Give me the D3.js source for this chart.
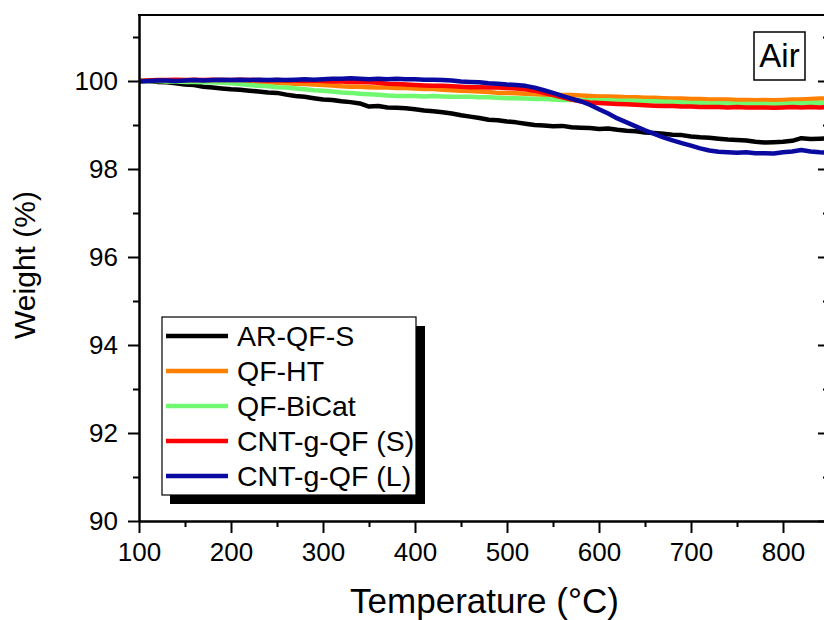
<!DOCTYPE html>
<html lang="en">
<head>
<meta charset="utf-8">
<title>TGA in air</title>
<script src="https://d3js.org/d3.v7.min.js"></script>
<style>
  body { margin: 0; background: #fff; }
  text { font-family: "Liberation Sans", Arial, sans-serif; fill: #000; }
</style>
</head>
<body>
<script>
// temperatures, every 10 °C
var temps = d3.range(100, 851, 10);

var arQFS = [100.00,100.00,99.98,99.97,99.95,99.92,99.91,99.87,99.85,99.83,
  99.81,99.80,99.78,99.76,99.74,99.73,99.69,99.66,99.64,99.61,
  99.58,99.57,99.54,99.52,99.49,99.42,99.43,99.40,99.39,99.38,
  99.36,99.33,99.31,99.29,99.26,99.22,99.19,99.16,99.12,99.11,
  99.08,99.06,99.03,99.00,98.99,98.97,98.98,98.95,98.94,98.93,
  98.91,98.92,98.89,98.87,98.86,98.83,98.82,98.80,98.78,98.77,
  98.74,98.72,98.71,98.69,98.67,98.66,98.65,98.62,98.60,98.61,
  98.62,98.64,98.70,98.68,98.69,98.70];

var qfHT = [100.00,100.01,100.01,100.00,100.01,100.00,100.01,100.00,99.99,100.00,
  99.99,99.98,99.98,99.97,99.97,99.96,99.95,99.94,99.93,99.92,
  99.91,99.90,99.88,99.87,99.87,99.86,99.85,99.85,99.84,99.84,
  99.83,99.82,99.82,99.80,99.79,99.78,99.77,99.76,99.75,99.73,
  99.73,99.72,99.71,99.70,99.69,99.69,99.68,99.68,99.67,99.66,
  99.65,99.65,99.64,99.63,99.63,99.62,99.62,99.61,99.60,99.60,
  99.59,99.59,99.58,99.58,99.58,99.57,99.57,99.56,99.57,99.56,
  99.57,99.58,99.58,99.59,99.60,99.60];

var qfBiCat = [100.00,100.00,100.00,99.99,99.99,99.98,99.98,99.97,99.97,99.96,
  99.95,99.93,99.91,99.89,99.88,99.86,99.85,99.83,99.81,99.79,
  99.78,99.76,99.74,99.73,99.71,99.70,99.69,99.67,99.66,99.66,
  99.66,99.65,99.66,99.65,99.64,99.64,99.64,99.63,99.63,99.62,
  99.61,99.61,99.60,99.59,99.59,99.58,99.57,99.57,99.57,99.56,
  99.56,99.56,99.55,99.55,99.55,99.54,99.54,99.53,99.52,99.51,
  99.50,99.50,99.49,99.49,99.49,99.48,99.48,99.48,99.48,99.47,
  99.48,99.49,99.49,99.50,99.50,99.51];

var cntS = [100.00,100.01,100.02,100.02,100.03,100.02,100.03,100.02,100.03,100.02,
  100.02,100.03,100.02,100.02,100.01,100.02,100.01,100.01,100.00,100.01,
  100.00,99.99,99.99,99.98,99.98,99.97,99.96,99.94,99.93,99.92,
  99.91,99.90,99.89,99.89,99.88,99.87,99.86,99.86,99.85,99.85,
  99.84,99.83,99.81,99.78,99.73,99.68,99.63,99.58,99.54,99.51,
  99.50,99.49,99.48,99.47,99.46,99.45,99.44,99.43,99.43,99.42,
  99.42,99.41,99.41,99.41,99.40,99.41,99.40,99.40,99.40,99.39,
  99.40,99.41,99.40,99.41,99.40,99.41];

var cntL = [99.99,100.00,100.01,100.01,100.00,100.01,100.02,100.01,100.02,100.03,
  100.02,100.03,100.02,100.03,100.02,100.03,100.02,100.03,100.04,100.03,
  100.04,100.05,100.05,100.06,100.05,100.04,100.05,100.04,100.05,100.04,
  100.04,100.03,100.03,100.02,100.01,99.99,99.98,99.97,99.95,99.94,
  99.92,99.91,99.89,99.85,99.79,99.73,99.66,99.60,99.54,99.46,
  99.36,99.26,99.15,99.06,98.97,98.88,98.80,98.72,98.65,98.59,
  98.53,98.47,98.42,98.39,98.38,98.37,98.38,98.36,98.36,98.35,
  98.38,98.40,98.43,98.40,98.38,98.37];

var seriesNames = ["AR-QF-S", "QF-HT", "QF-BiCat", "CNT-g-QF (S)", "CNT-g-QF (L)"];
var seriesColors = ["#000000", "#ff8000", "#70f870", "#ff0000", "#0a0aa0"];
var seriesValues = [arQFS, qfHT, qfBiCat, cntS, cntL];

var xTicks = [100, 200, 300, 400, 500, 600, 700, 800];
var xMinor = [150, 250, 350, 450, 550, 650, 750, 850];
var yTicks = [90, 92, 94, 96, 98, 100];
var yMinor = [91, 93, 95, 97, 99, 101];

(function() {
var W = 824, H = 620;
var pL = 139, pR = 829, pT = 15, pB = 521;

var x = d3.scaleLinear().domain([100, 850]).range([pL, pR]);
var y = d3.scaleLinear().domain([90, 101.5]).range([pB, pT]);

var svg = d3.select("body").append("svg")
  .attr("width", W).attr("height", H);

svg.append("clipPath").attr("id", "plot")
  .append("rect").attr("x", pL).attr("y", pT)
  .attr("width", pR - pL).attr("height", pB - pT);

// data lines
var line = d3.line()
  .x(function(d, i) { return x(temps[i]); })
  .y(function(d) { return y(d); });

var lines = svg.append("g").attr("clip-path", "url(#plot)");
seriesValues.forEach(function(vals, k) {
  lines.append("path")
    .attr("d", line(vals))
    .attr("fill", "none")
    .attr("stroke", seriesColors[k])
    .attr("stroke-width", 4.5)
    .attr("stroke-linejoin", "round");
});

// axes
function styleAxis(g) {
  g.selectAll("path, line").attr("stroke", "#000").attr("stroke-width", 2);
  g.selectAll("text").style("font-family", "Liberation Sans, Arial, sans-serif")
    .attr("fill", "#000");
}

svg.append("g").attr("transform", "translate(0," + pB + ")")
  .call(d3.axisBottom(x).tickValues(xMinor).tickSize(6).tickFormat("").tickSizeOuter(0))
  .call(styleAxis);
svg.append("g").attr("transform", "translate(0," + pB + ")")
  .call(d3.axisBottom(x).tickValues(xTicks).tickSize(12).tickPadding(10)
    .tickFormat(d3.format("d")).tickSizeOuter(0))
  .call(styleAxis)
  .selectAll("text").attr("font-size", 26);

svg.append("g").attr("transform", "translate(" + pL + ",0)")
  .call(d3.axisLeft(y).tickValues(yMinor).tickSize(6).tickFormat("").tickSizeOuter(0))
  .call(styleAxis);
svg.append("g").attr("transform", "translate(" + pL + ",0)")
  .call(d3.axisLeft(y).tickValues(yTicks).tickSize(11).tickPadding(10)
    .tickFormat(d3.format("d")).tickSizeOuter(0))
  .call(styleAxis)
  .selectAll("text").attr("font-size", 26);

// right side: inward ticks of the mirrored axis
svg.append("g").attr("transform", "translate(" + pR + ",0)")
  .call(d3.axisLeft(y).tickValues(yTicks).tickSize(11).tickFormat("").tickSizeOuter(0))
  .call(styleAxis);
svg.append("g").attr("transform", "translate(" + pR + ",0)")
  .call(d3.axisLeft(y).tickValues(yMinor).tickSize(6).tickFormat("").tickSizeOuter(0))
  .call(styleAxis);

// top frame
svg.append("line")
  .attr("x1", pL - 1).attr("x2", pR).attr("y1", pT).attr("y2", pT)
  .attr("stroke", "#000").attr("stroke-width", 2);

// axis titles
svg.append("text")
  .attr("x", (352 + 617) / 2).attr("y", 613)
  .attr("text-anchor", "middle").attr("font-size", 35)
  .text("Temperature (°C)");

svg.append("text")
  .attr("transform", "translate(35,265) rotate(-90)")
  .attr("text-anchor", "middle").attr("font-size", 30)
  .text("Weight (%)");

// "Air" label
svg.append("rect")
  .attr("x", 754).attr("y", 32).attr("width", 51).attr("height", 48)
  .attr("fill", "#fff").attr("stroke", "#000").attr("stroke-width", 1.5);
svg.append("text")
  .attr("x", 779.5).attr("y", 67)
  .attr("text-anchor", "middle").attr("font-size", 33)
  .text("Air");

// legend
var lg = svg.append("g");
lg.append("rect")
  .attr("x", 170).attr("y", 326).attr("width", 255).attr("height", 178)
  .attr("fill", "#000");
lg.append("rect")
  .attr("x", 162).attr("y", 317).attr("width", 254).attr("height", 178)
  .attr("fill", "#fff").attr("stroke", "#000").attr("stroke-width", 1.2);

seriesNames.forEach(function(name, i) {
  var yy = 336 + i * 35;
  lg.append("line")
    .attr("x1", 166).attr("x2", 228).attr("y1", yy).attr("y2", yy)
    .attr("stroke", seriesColors[i]).attr("stroke-width", 4.5);
  lg.append("text")
    .attr("x", 237).attr("y", yy + 10)
    .attr("font-size", 28.5)
    .text(name);
});
})();
</script>
</body>
</html>
